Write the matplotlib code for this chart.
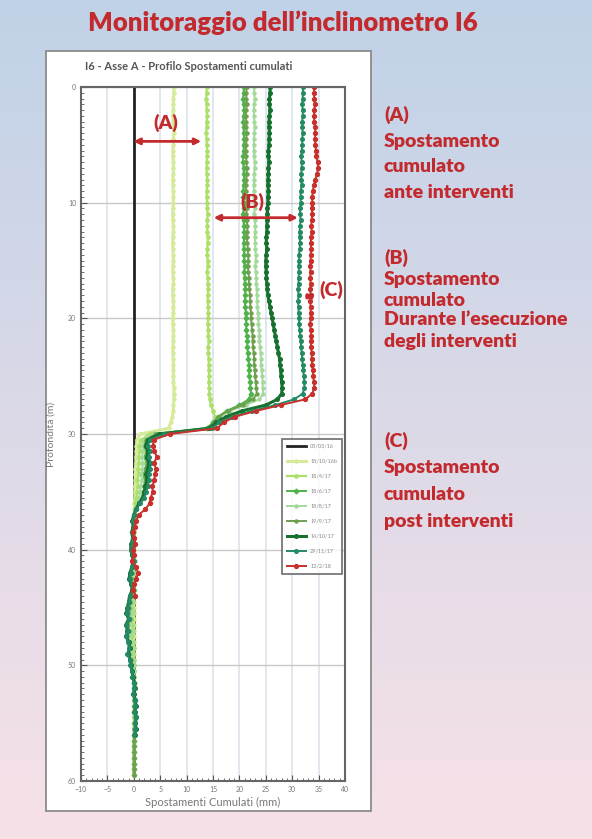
import numpy as np
import matplotlib
matplotlib.use("Agg")
from matplotlib import pyplot as plt
from matplotlib.patches import Rectangle
from matplotlib.ticker import MultipleLocator

plt.rcParams['font.family'] = ['Lato', 'DejaVu Sans']

nan = np.nan

# inclinometer readings every 0.5 m (depth 0 .. 59.5 m)
depth = np.arange(0, 60, 0.5)

labels = ['03/03/16', '18/10/16b', '18/4/17', '18/6/17', '18/8/17',
          '19/9/17', '14/10/17', '29/11/17', '12/2/18']

s1 = [0.0] * 120

s2 = [7.6, 7.6, 7.5, 7.5, 7.5, 7.4, 7.5, 7.5, 7.6, 7.5,
      7.5, 7.4, 7.4, 7.5, 7.5, 7.5, 7.4, 7.4, 7.5, 7.5,
      7.5, 7.4, 7.4, 7.4, 7.5, 7.5, 7.4, 7.4, 7.4, 7.5,
      7.5, 7.4, 7.4, 7.5, 7.5, 7.4, 7.4, 7.5, 7.5, 7.5,
      7.4, 7.4, 7.5, 7.5, 7.5, 7.4, 7.4, 7.5, 7.5, 7.5,
      7.5, 7.5, 7.6, 7.6, 7.6, 7.5, 7.5, 7.3, 7.0, 6.6,
      1.2, 0.6, 0.5, 0.5, 0.4, 0.4, 0.3, 0.3, 0.3, 0.2,
      0.2, 0.2, 0.1, 0.1, 0.1, 0.0, 0.0, 0.1, 0.0, 0.0,
      0.0, 0.1, 0.0, 0.0, 0.0, 0.0, 0.0, 0.0, 0.0, 0.0,
      0.0, 0.0, 0.0, 0.0, 0.0, 0.0, 0.0, 0.0, 0.0, 0.0,
      0.0, 0.0, 0.0, 0.0, 0.0, 0.0, 0.0, 0.0, 0.0, 0.0,
      0.0, 0.0, 0.0, 0.0, 0.0, 0.0, 0.0, 0.0, 0.0, 0.0]

s3 = [13.8, 13.8, 13.7, 13.8, 13.8, 13.9, 13.8, 13.8, 13.7, 13.8,
      13.8, 13.9, 13.9, 13.8, 13.8, 13.8, 13.9, 13.9, 13.8, 13.8,
      13.9, 13.9, 14.0, 13.9, 13.9, 13.9, 14.0, 14.0, 13.9, 13.9,
      14.0, 14.0, 13.9, 14.0, 14.0, 14.1, 14.0, 14.0, 14.1, 14.1,
      14.1, 14.0, 14.1, 14.1, 14.2, 14.1, 14.1, 14.2, 14.2, 14.2,
      14.3, 14.2, 14.3, 14.3, 14.4, 14.6, 15.0, 15.4, 15.6, 15.2,
      3.0, 1.4, 1.0, 1.1, 0.9, 1.0, 0.8, 0.9, 0.7, 0.8,
      0.6, 0.5, 0.3, 0.2, 0.1, 0.0, -0.1, 0.1, 0.0, -0.2,
      -0.1, 0.0, 0.1, 0.0, -0.2, -0.1, 0.0, 0.1, 0.0, -0.1,
      -0.3, -0.2, -0.4, -0.2, -0.1, -0.3, -0.2, 0.0, -0.1, 0.0,
      0.0, 0.1, 0.0, 0.1, 0.1, 0.0, 0.1, 0.0, 0.0, 0.1,
      0.0, 0.0, 0.1, 0.0, 0.0, 0.0, 0.0, 0.0, 0.0, 0.0]

s4 = [20.8, 20.8, 20.7, 20.8, 20.9, 20.8, 20.7, 20.8, 20.8, 20.9,
      20.8, 20.8, 20.7, 20.7, 20.8, 20.8, 20.9, 20.8, 20.7, 20.7,
      20.8, 20.8, 20.7, 20.8, 20.8, 20.9, 20.9, 20.8, 20.8, 20.9,
      20.9, 21.0, 20.9, 21.0, 21.0, 21.1, 21.1, 21.0, 21.1, 21.2,
      21.2, 21.3, 21.3, 21.4, 21.5, 21.5, 21.6, 21.7, 21.8, 21.8,
      21.9, 22.0, 22.1, 22.2, 21.8, 20.0, 17.6, 16.0, 15.0, 13.8,
      3.8, 2.2, 2.0, 2.3, 2.1, 2.4, 2.2, 2.0, 1.9, 2.1,
      1.8, 1.5, 0.8, 0.4, 0.1, -0.2, 0.0, -0.3, -0.1, 0.0,
      -0.4, -0.2, 0.1, -0.1, -0.3, -0.5, -0.2, 0.0, -0.4, -0.6,
      -0.8, -1.0, -0.7, -1.1, -0.9, -1.2, -0.8, -0.6, -0.9, -0.5,
      -0.4, -0.2, -0.3, 0.0, 0.1, -0.1, 0.2, 0.1, 0.0, 0.2,
      0.1, 0.2, 0.0, 0.1, 0.0, 0.0, 0.1, 0.0, 0.0, 0.0]

s5 = [22.8, 22.8, 22.9, 22.8, 22.7, 22.8, 22.8, 22.9, 22.8, 22.8,
      22.7, 22.8, 22.8, 22.9, 22.9, 22.8, 22.8, 22.7, 22.8, 22.8,
      22.9, 22.9, 22.8, 22.9, 23.0, 23.0, 22.9, 23.0, 23.0, 23.1,
      23.1, 23.0, 23.1, 23.2, 23.2, 23.3, 23.3, 23.4, 23.4, 23.5,
      23.6, 23.6, 23.7, 23.8, 23.8, 23.9, 24.0, 24.1, 24.1, 24.2,
      24.3, 24.4, 24.4, 24.5, 23.8, 21.2, 18.2, 16.3, 15.2, 14.1,
      3.6, 1.9, 1.6, 1.8, 1.5, 1.7, 1.6, 1.4, 1.5, 1.3,
      1.2, 1.0, 0.6, 0.3, 0.1, 0.0, 0.1, -0.1, 0.0, 0.1,
      -0.1, 0.0, 0.2, 0.0, -0.2, -0.1, 0.0, 0.1, -0.2, -0.3,
      -0.5, -0.4, -0.6, -0.5, -0.3, -0.6, -0.4, -0.2, -0.3, -0.1,
      0.0, 0.1, 0.0, 0.2, 0.1, 0.0, 0.1, 0.2, 0.1, 0.0,
      0.1, 0.0, 0.0, 0.1, 0.0, 0.0, 0.0, 0.0, 0.0, 0.0]

s6 = [21.4, 21.3, 21.3, 21.4, 21.3, 21.2, 21.3, 21.3, 21.4, 21.3,
      21.3, 21.2, 21.3, 21.3, 21.4, 21.4, 21.3, 21.3, 21.2, 21.3,
      21.4, 21.4, 21.3, 21.4, 21.5, 21.5, 21.4, 21.5, 21.6, 21.6,
      21.7, 21.6, 21.7, 21.8, 21.8, 21.9, 22.0, 22.0, 22.1, 22.2,
      22.2, 22.3, 22.4, 22.5, 22.5, 22.6, 22.7, 22.8, 22.8, 22.9,
      23.0, 23.1, 23.2, 23.3, 22.6, 20.6, 17.8, 16.1, 15.1, 14.0,
      4.2, 2.4, 2.1, 2.5, 2.3, 2.6, 2.4, 2.2, 2.3, 2.0,
      1.9, 1.6, 0.9, 0.5, 0.2, -0.1, 0.1, -0.2, 0.0, -0.1,
      -0.3, -0.1, 0.0, -0.2, -0.4, -0.6, -0.3, -0.1, -0.5, -0.7,
      -0.9, -1.1, -0.8, -1.2, -1.0, -1.3, -0.9, -0.7, -1.0, -0.6,
      -0.5, -0.3, -0.2, 0.0, 0.0, -0.2, 0.1, 0.2, 0.1, 0.3,
      0.2, 0.1, 0.1, 0.0, 0.0, 0.0, 0.0, 0.0, 0.0, 0.0]

s7 = [25.8, 25.8, 25.7, 25.7, 25.8, 25.7, 25.6, 25.6, 25.7, 25.6,
      25.6, 25.5, 25.5, 25.6, 25.5, 25.5, 25.4, 25.4, 25.5, 25.4,
      25.4, 25.3, 25.3, 25.3, 25.2, 25.2, 25.1, 25.1, 25.2, 25.1,
      25.0, 25.0, 25.1, 25.1, 25.2, 25.3, 25.4, 25.6, 25.8, 26.0,
      26.2, 26.4, 26.6, 26.8, 27.0, 27.2, 27.4, 27.6, 27.7, 27.8,
      27.9, 28.0, 28.1, 28.0, 27.2, 25.0, 20.5, 17.5, 15.6, 14.3,
      4.8, 2.6, 2.3, 2.7, 2.5, 2.9, 2.6, 2.4, 2.5, 2.2,
      2.0, 1.7, 1.0, 0.4, 0.0, -0.3, -0.1, -0.4, -0.2, -0.5,
      -0.6, -0.3, -0.1, -0.4, -0.7, -0.9, -0.5, -0.3, -0.8, -1.0,
      -1.2, -1.4, -1.0, -1.5, -1.2, -1.4, -1.0, -0.8, -1.1, -0.7,
      -0.6, -0.3, -0.2, 0.1, 0.2, 0.0, 0.3, 0.4, 0.2, 0.5,
      0.3, 0.4, 0.2, nan, nan, nan, nan, nan, nan, nan]

s8 = [32.1, 32.0, 32.0, 31.9, 32.0, 32.0, 31.9, 31.9, 32.0, 31.9,
      31.9, 31.8, 31.7, 31.8, 31.8, 31.7, 31.7, 31.8, 31.6, 31.6,
      31.6, 31.5, 31.5, 31.6, 31.5, 31.4, 31.4, 31.5, 31.4, 31.3,
      31.3, 31.2, 31.3, 31.2, 31.2, 31.1, 31.2, 31.1, 31.2, 31.2,
      31.3, 31.3, 31.4, 31.5, 31.6, 31.7, 31.8, 31.9, 32.0, 32.1,
      32.2, 32.3, 32.3, 32.0, 30.4, 26.8, 22.4, 18.6, 16.2, 14.8,
      5.8, 3.0, 2.7, 3.1, 2.8, 3.3, 3.0, 2.8, 2.9, 2.6,
      2.4, 2.0, 1.2, 0.5, 0.1, -0.2, 0.0, -0.3, -0.1, -0.4,
      -0.5, -0.2, 0.0, -0.3, -0.6, -0.8, -0.4, -0.2, -0.7, -0.9,
      -1.1, -1.3, -0.9, -1.4, -1.1, -1.5, -1.1, -0.9, -1.2, -0.8,
      -0.7, -0.4, -0.3, 0.0, 0.1, -0.1, 0.2, 0.3, 0.1, 0.4,
      0.2, 0.3, 0.1, nan, nan, nan, nan, nan, nan, nan]

s9 = [34.2, 34.1, 34.2, 34.3, 34.2, 34.1, 34.2, 34.3, 34.4, 34.3,
      34.4, 34.5, 34.6, 34.8, 34.9, 34.7, 34.4, 34.1, 33.9, 33.8,
      33.8, 33.7, 33.8, 33.7, 33.6, 33.7, 33.6, 33.5, 33.6, 33.5,
      33.5, 33.4, 33.5, 33.4, 33.5, 33.4, 33.5, 33.4, 33.5, 33.5,
      33.5, 33.4, 33.5, 33.6, 33.5, 33.6, 33.7, 33.7, 33.8, 33.9,
      34.0, 34.1, 34.2, 33.8, 32.5, 27.8, 23.2, 19.2, 17.0, 15.8,
      6.8, 3.8, 3.6, 3.9, 4.4, 3.8, 4.2, 4.0, 3.9, 3.5,
      3.6, 3.2, 3.0, 2.2, 0.9, 0.5, 0.2, -0.2, 0.1, 0.3,
      -0.2, 0.0, -0.3, 0.4, 0.8, 0.5, 0.0, -0.1, 0.3, nan,
      nan, nan, nan, nan, nan, nan, nan, nan, nan, nan,
      nan, nan, nan, nan, nan, nan, nan, nan, nan, nan,
      nan, nan, nan, nan, nan, nan, nan, nan, nan, nan]

series = [s1, s2, s3, s4, s5, s6, s7, s8, s9]
colors = ['#222222', '#d6eb9a', '#ade06a', '#4fb24a', '#a3d99a',
          '#6e9f4e', '#16702e', '#248a66', '#c8302c']
markers = [None, 'o', 'o', 'D', 'o', 'o', 'o', 'o', 'o']
msizes = [0, 2.2, 2.4, 2.4, 2.2, 2.2, 2.6, 2.6, 2.8]
widths = [2.0, 2.2, 1.6, 1.4, 1.4, 1.4, 2.2, 1.4, 1.4]

red = '#c32a2e'

fig = plt.figure(figsize=(5.92, 8.39), dpi=100)

# slide background
bg = fig.add_axes([0, 0, 1, 1])
top_c = np.array([192, 210, 232]) / 255
bot_c = np.array([247, 225, 231]) / 255
t = np.linspace(0, 1, 256)[:, None, None]
grad = top_c * (1 - t) + bot_c * t
grad = np.repeat(grad, 2, axis=1)
bg.imshow(grad, aspect='auto', extent=[0, 1, 0, 1])
bg.set_xlim(0, 1), bg.set_ylim(0, 1)
bg.axis('off')
bg.add_patch(Rectangle((0.078, 0.033), 0.548, 0.906, facecolor='white',
                       edgecolor='#8a8a8a', lw=1.3, transform=bg.transAxes))

fig.text(0.478, 0.973, 'Monitoraggio dell\u2019inclinometro I6', color=red,
         fontsize=18.5, fontweight='heavy', ha='center', va='center')
fig.text(0.143, 0.921, 'I6 - Asse A - Profilo Spostamenti cumulati',
         color='#555555', fontsize=8, fontweight='bold', ha='left', va='center')

# notes on the right
notes = [(115, '(A)'), (141, 'Spostamento'), (166, 'cumulato'), (193, 'ante interventi'),
         (258, '(B)'), (279, 'Spostamento'), (300, 'cumulato'),
         (320, 'Durante l\u2019esecuzione'), (341, 'degli interventi'),
         (441, '(C)'), (467, 'Spostamento'), (494, 'cumulato'), (521, 'post interventi')]
for yp, txt in notes:
    fig.text(384 / 592, 1 - yp / 839, txt, color=red, fontsize=14,
             fontweight='heavy', ha='left', va='center')

ax = fig.add_axes([81 / 592, 1 - 781 / 839, 264 / 592, 694 / 839])
for vals, lab, c, m, ms, lw in zip(series, labels, colors, markers, msizes, widths):
    ax.plot(vals, depth, color=c, lw=lw, marker=m, ms=ms, mec=c, mfc=c,
            label=lab)

ax.set_xlim(-10, 40)
ax.set_ylim(60, 0)
ax.xaxis.set_major_locator(MultipleLocator(5))
ax.xaxis.set_minor_locator(MultipleLocator(1))
ax.yaxis.set_major_locator(MultipleLocator(10))
ax.yaxis.set_minor_locator(MultipleLocator(0.5))
ax.tick_params(which='both', direction='in', colors='#555555', labelsize=5,
               labelcolor='#777777')
ax.tick_params(which='major', length=4, width=0.8)
ax.tick_params(which='minor', length=2, width=0.6)
ax.grid(axis='x', which='major', color='#dde5ee', lw=1.3)
ax.grid(axis='y', which='major', color='#c8c8c8', lw=1.0)
ax.set_axisbelow(True)
for sp in ax.spines.values():
    sp.set_color('#666666')
    sp.set_linewidth(1.5)
ax.set_xlabel('Spostamenti Cumulati (mm)', fontsize=8, color='#777777', labelpad=3)
ax.set_ylabel('Profondità (m)', fontsize=7.5, color='#777777', labelpad=9)

# annotations
akw = dict(arrowstyle='<|-|>', color=red, lw=2.0, mutation_scale=9)
ax.annotate('', xy=(-0.6, 4.7), xytext=(13.3, 4.7), arrowprops=akw)
ax.text(6.0, 3.1, '(A)', color=red, fontsize=14, fontweight='heavy',
        ha='center', va='center')
ax.annotate('', xy=(14.6, 11.3), xytext=(31.6, 11.3), arrowprops=akw)
ax.text(22.4, 9.9, '(B)', color=red, fontsize=14, fontweight='heavy',
        ha='center', va='center')
ax.annotate('', xy=(31.9, 18.1), xytext=(34.6, 18.1),
            arrowprops=dict(arrowstyle='<|-|>', color=red, lw=2.5, mutation_scale=5))
ax.text(37.5, 17.5, '(C)', color=red, fontsize=14, fontweight='heavy',
        ha='center', va='center')

leg = ax.legend(loc='upper right', bbox_to_anchor=(1.0, 0.497), fontsize=4,
                frameon=True, fancybox=False, labelcolor='#888888',
                handlelength=3.4, borderpad=0.9, labelspacing=1.8)
leg.get_frame().set_edgecolor('#555555')
leg.get_frame().set_linewidth(1.3)

fig.savefig('out.png', dpi=100)
